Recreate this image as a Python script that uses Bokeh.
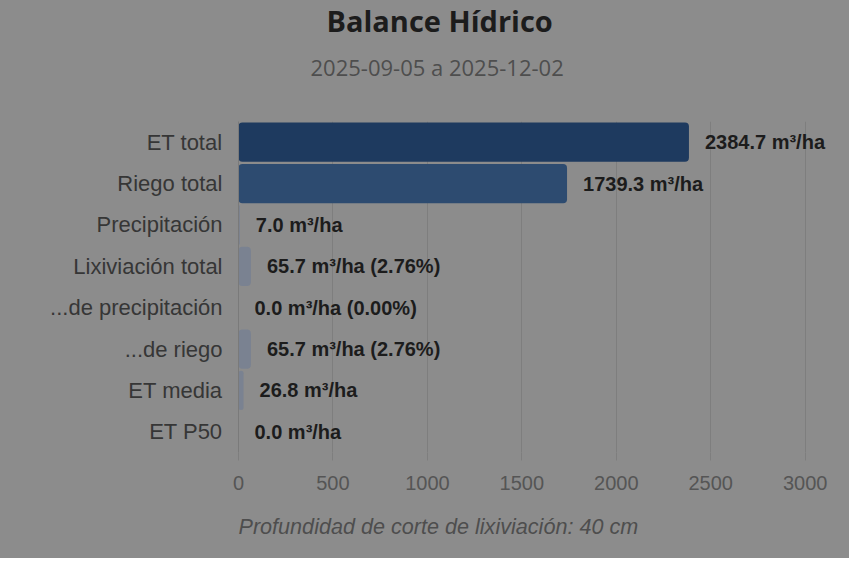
from bokeh.plotting import figure
from bokeh.models import ColumnDataSource, FactorRange, Range1d, LabelSet, Title, FixedTicker
from bokeh.core.properties import value
from bokeh.embed import file_html
from bokeh.resources import INLINE

title_text = "Balance Hídrico"
subtitle_text = "2025-09-05 a 2025-12-02"
footer_text = "Profundidad de corte de lixiviación: 40 cm"

categories = ["ET total", "Riego total", "Precipitación", "Lixiviación total",
              "...de precipitación", "...de riego", "ET media", "ET P50"]
values = [2384.7, 1739.3, 7.0, 65.7, 0.0, 65.7, 26.8, 0.0]
percents = [None, None, None, 2.76, 0.00, 2.76, None, None]
bar_colors = ["#1e3a5f", "#2d4b70", "#7a8291", "#7a8291",
              "#7a8291", "#7a8291", "#7a8291", "#7a8291"]
x_ticks = [0, 500, 1000, 1500, 2000, 2500, 3000]
unit = "m³/ha"

labels = []
for v, pc in zip(values, percents):
    s = f"{v:.1f} {unit}"
    if pc is not None:
        s += f" ({pc:.2f}%)"
    labels.append(s)

src = ColumnDataSource(dict(cat=categories, val=values, color=bar_colors, label=labels))

BG = "#8c8c8c"
p = figure(y_range=FactorRange(*reversed(categories)), x_range=Range1d(0, 3150),
           frame_width=595, frame_height=331, width=849, height=558,
           min_border_left=238, min_border_top=121, min_border_right=16, min_border_bottom=106,
           output_backend="svg", toolbar_location=None, title=None,
           background_fill_color=BG, border_fill_color=BG)
p.outline_line_color = None
p.styles = {"background-color": BG}

p.hbar(y="cat", right="val", left=0, height=0.95, color="color", source=src,
       line_color=None, border_radius=4)

ls = LabelSet(x="val", y="cat", text="label", source=src, x_offset=16,
              text_baseline="middle", text_align="left",
              text_font=value("Liberation Sans"), text_font_style="bold",
              text_font_size="20px", text_color="#1c1c1c")
p.add_layout(ls)

# axes
xa = p.xaxis[0]
xa.ticker = FixedTicker(ticks=x_ticks)
xa.axis_line_color = None
xa.major_tick_line_color = "#7e7e7e"
xa.major_tick_out = 8
xa.major_tick_in = 0
xa.minor_tick_line_color = None
xa.major_label_standoff = 15
xa.major_label_text_font = "Liberation Sans"
xa.major_label_text_font_size = "20px"
xa.major_label_text_color = "#555555"

ya = p.yaxis[0]
ya.axis_line_color = "#7a7a7a"
ya.major_tick_line_color = None
ya.minor_tick_line_color = None
ya.major_tick_out = 0
ya.major_label_standoff = 16
ya.major_label_text_font = "Liberation Sans"
ya.major_label_text_font_size = "22px"
ya.major_label_text_color = "#363636"

p.xgrid.ticker = FixedTicker(ticks=x_ticks)
p.xgrid.grid_line_color = "#7e7e7e"
p.ygrid.grid_line_color = None

# thin blank band between the subtitle and the plot area
gap = Title(text=" ", standoff=24, text_font_size="1px", text_color=BG)
p.add_layout(gap, "above")

sub = Title(text=subtitle_text, align="left", offset=72, standoff=26,
            text_font="Open Sans", text_font_style="normal",
            text_font_size="22px", text_color="#4e4e4e")
p.add_layout(sub, "above")
ttl = Title(text=title_text, align="left", offset=88, standoff=-6,
            text_font="Open Sans", text_font_style="bold",
            text_font_size="29px", text_color="#1c1c1c")
p.add_layout(ttl, "above")

foot = Title(text=footer_text, align="left", offset=0, standoff=38,
             text_font="Liberation Sans", text_font_style="italic",
             text_font_size="21.6px", text_color="#4e4e4e")
p.add_layout(foot, "below")

open("out.html", "w").write(file_html(p, INLINE))
